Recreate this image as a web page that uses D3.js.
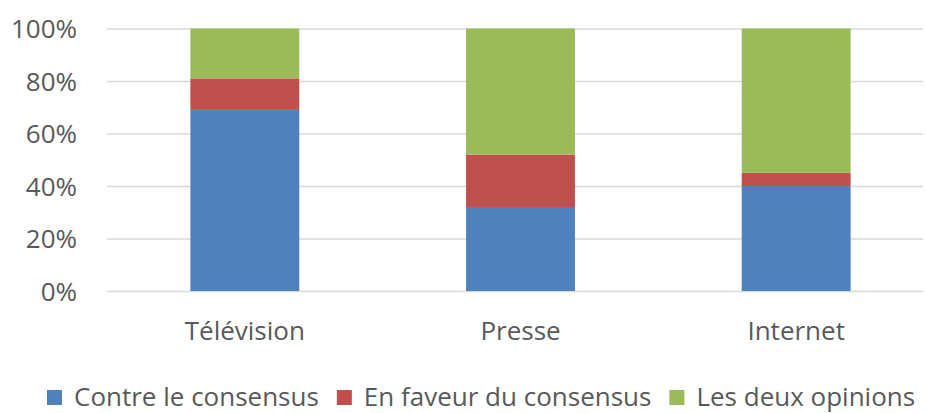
<!DOCTYPE html>
<html>
<head>
<meta charset="utf-8">
<script src="https://cdn.jsdelivr.net/npm/d3@7"></script>
<style>
  body { margin: 0; background: #fff; }
  svg { display: block; font-family: "Open Sans", sans-serif; }
</style>
</head>
<body>
<svg id="chart" width="926" height="413"></svg>
<script>
const categories = ["Télévision", "Presse", "Internet"];
const seriesNames = ["Contre le consensus", "En faveur du consensus", "Les deux opinions"];
const contre = [69, 32, 40];
const enFaveur = [12, 20, 5];
const deux = [19, 48, 55];
const yTicks = [0, 20, 40, 60, 80, 100];
const colors = ["#4F81BD", "#C0504D", "#9BBB59"];

const table = categories.map((c, i) => ({
  cat: c,
  [seriesNames[0]]: contre[i],
  [seriesNames[1]]: enFaveur[i],
  [seriesNames[2]]: deux[i]
}));

const svg = d3.select("#chart");
const W = 926;
const textColor = "#595959";
const fontSize = 26;

const x = d3.scaleBand().domain(categories).range([107, 934])
  .paddingInner(0.605).paddingOuter(0.3025);
const y = d3.scaleLinear().domain([0, 100]).range([291, 28.5]);

// gridlines
const yAxis = d3.axisLeft(y).tickValues(yTicks).tickSize(-(W - 3 - 107)).tickFormat(d => d + "%").tickPadding(30);
const gy = svg.append("g").attr("transform", "translate(107,0)").call(yAxis);
gy.select(".domain").remove();
gy.selectAll(".tick line").attr("stroke", "#d9d9d9").attr("stroke-width", 1.5);
gy.selectAll(".tick text").attr("fill", textColor).attr("font-size", fontSize)
  .attr("font-family", "'Open Sans', sans-serif").attr("x", -30).attr("dy", "0.36em");

// stacked bars
const stack = d3.stack().keys(seriesNames)(table);
svg.append("g").selectAll("g").data(stack).join("g")
  .attr("fill", (d, i) => colors[i])
  .selectAll("rect").data(d => d).join("rect")
  .attr("x", d => x(d.data.cat))
  .attr("width", x.bandwidth())
  .attr("y", d => y(d[1]))
  .attr("height", d => y(d[0]) - y(d[1]));

// category axis
const xAxis = d3.axisBottom(x).tickSize(0).tickPadding(0);
const gx = svg.append("g").attr("transform", "translate(0,291)").call(xAxis);
gx.select(".domain").remove();
gx.selectAll(".tick text").attr("fill", textColor).attr("font-size", fontSize)
  .attr("font-family", "'Open Sans', sans-serif").attr("y", 49).attr("dy", 0);

// legend
const legend = svg.append("g");
let lx = 47;
const sq = 15;
seriesNames.forEach((name, i) => {
  legend.append("rect").attr("x", lx).attr("y", 390).attr("width", sq).attr("height", sq).attr("fill", colors[i]);
  const t = legend.append("text").attr("x", lx + sq + 12).attr("y", 406)
    .attr("fill", textColor).attr("font-size", fontSize).text(name);
  const w = t.node().getComputedTextLength();
  lx = lx + sq + 12 + w + 18;
});
</script>
</body>
</html>
